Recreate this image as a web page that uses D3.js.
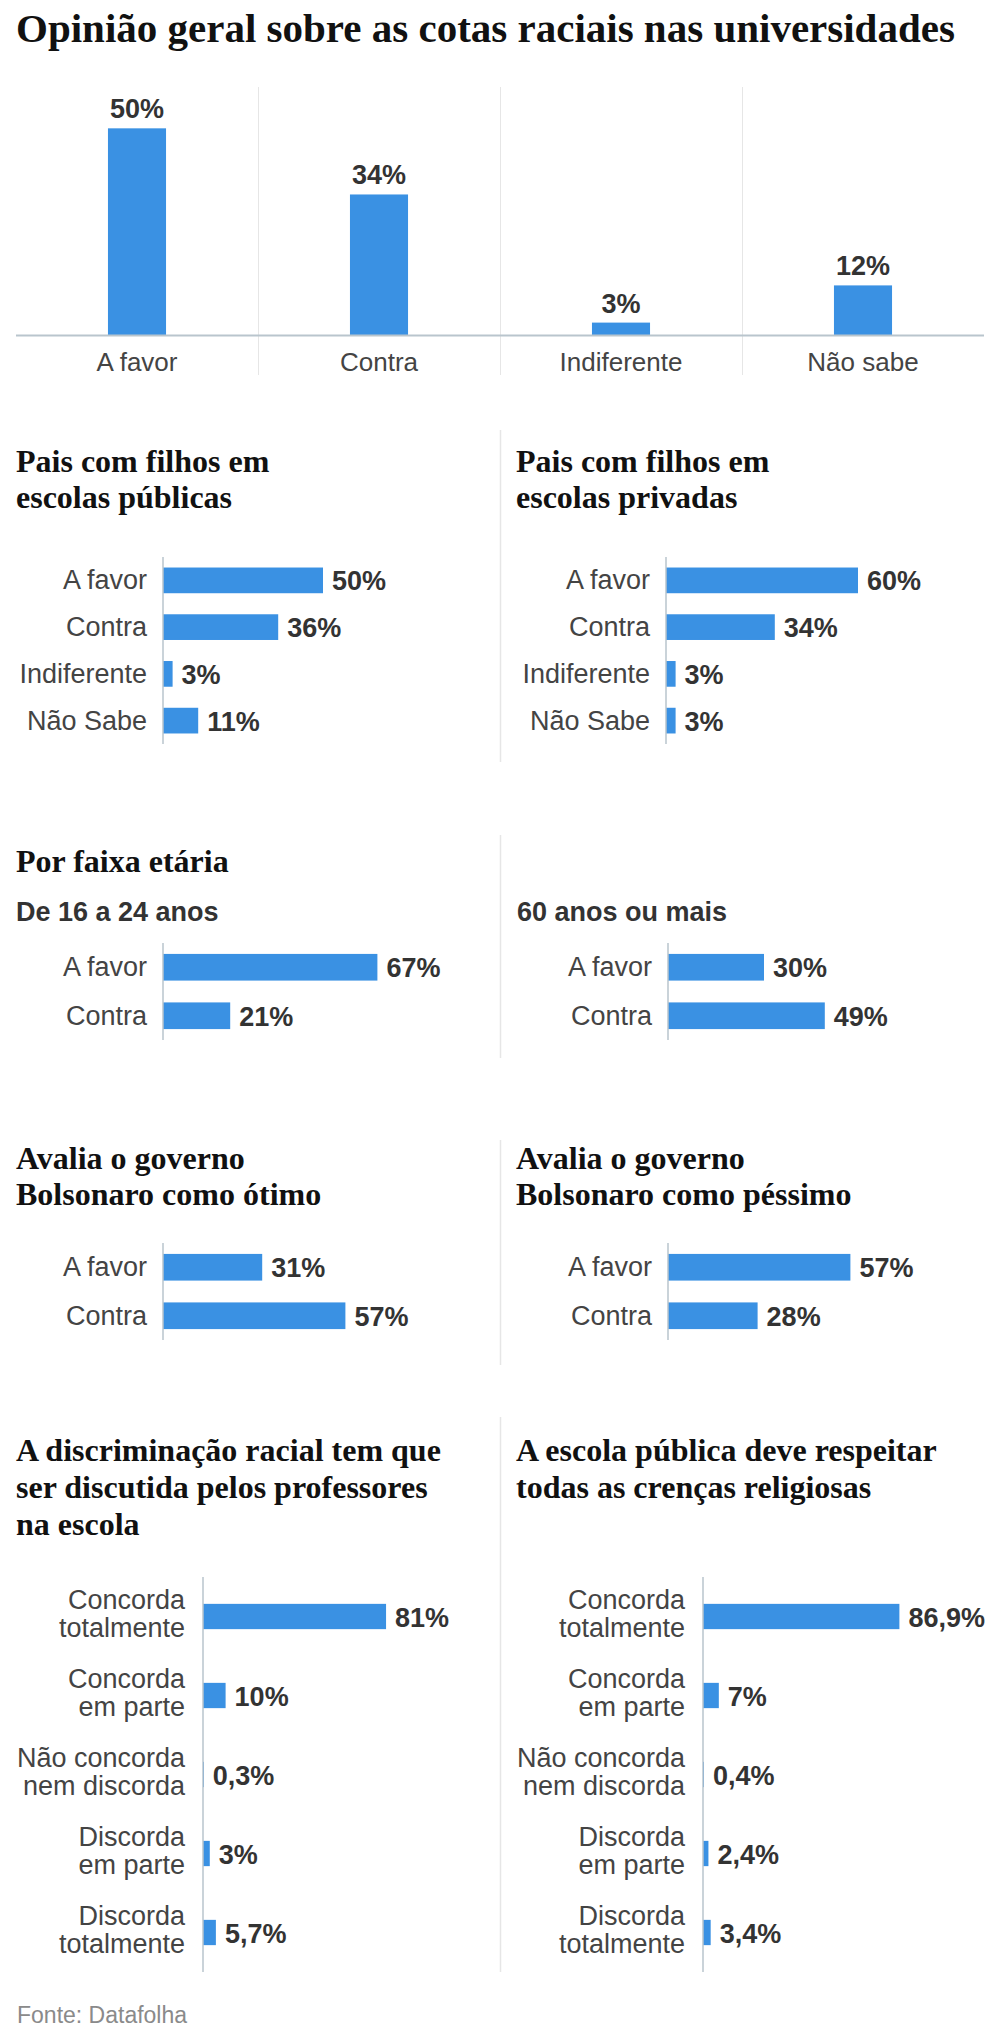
<!DOCTYPE html>
<html>
<head>
<meta charset="utf-8">
<script src="https://cdn.jsdelivr.net/npm/d3@7"></script>
<style>
  html, body { margin: 0; padding: 0; background: #fff; }
  svg { display: block; }
</style>
</head>
<body>
<svg id="chart" width="1000" height="2042"></svg>
<script>
// ---------- DATA ----------
const mainTitle = "Opinião geral sobre as cotas raciais nas universidades";
const overallCats = ["A favor", "Contra", "Indiferente", "Não sabe"];
const overallVals = [50, 34, 3, 12];

const fourCats = ["A favor", "Contra", "Indiferente", "Não Sabe"];
const publicVals = [50, 36, 3, 11];
const privateVals = [60, 34, 3, 3];

const twoCats = ["A favor", "Contra"];
const youngVals = [67, 21];
const oldVals = [30, 49];
const otimoVals = [31, 57];
const pessimoVals = [57, 28];

const agreeCats = [
  ["Concorda", "totalmente"],
  ["Concorda", "em parte"],
  ["Não concorda", "nem discorda"],
  ["Discorda", "em parte"],
  ["Discorda", "totalmente"]
];
const discrimVals = [81, 10, 0.3, 3, 5.7];
const religVals = [86.9, 7, 0.4, 2.4, 3.4];

const titlesPublic = ["Pais com filhos em", "escolas públicas"];
const titlesPrivate = ["Pais com filhos em", "escolas privadas"];
const titleAge = ["Por faixa etária"];
const subYoung = "De 16 a 24 anos";
const subOld = "60 anos ou mais";
const titlesOtimo = ["Avalia o governo", "Bolsonaro como ótimo"];
const titlesPessimo = ["Avalia o governo", "Bolsonaro como péssimo"];
const titlesDiscrim = ["A discriminação racial tem que", "ser discutida pelos professores", "na escola"];
const titlesRelig = ["A escola pública deve respeitar", "todas as crenças religiosas"];
const sourceText = "Fonte: Datafolha";

// ---------- STYLE ----------
const BAR = "#3a91e3";
const SANS = "'Liberation Sans', Arial, Helvetica, sans-serif";
const SERIF = "'Liberation Serif', 'Times New Roman', serif";
const LABEL_C = "#444";
const VALUE_C = "#333";
const GRID_C = "#e6e6e6";
const AXIS_C = "#b9c5cd";

const svg = d3.select("#chart");
const fmt = v => String(v).replace(".", ",") + "%";

// ---------- MAIN TITLE ----------
svg.append("text")
  .attr("x", 16).attr("y", 42)
  .attr("font-family", SERIF).attr("font-weight", "bold")
  .attr("font-size", 41).attr("fill", "#111")
  .text(mainTitle);

// ---------- TOP COLUMN CHART ----------
const xTop = d3.scaleBand().domain(overallCats).range([16, 984]);
const yTop = d3.scaleLinear().domain([0, 60]).range([335, 87]);
const gTop = svg.append("g");

// separators between categories
gTop.selectAll("line.sep")
  .data(overallCats.slice(1))
  .join("line")
  .attr("x1", d => Math.round(xTop(d)) + 0.5)
  .attr("x2", d => Math.round(xTop(d)) + 0.5)
  .attr("y1", yTop(60)).attr("y2", 375)
  .attr("stroke", GRID_C).attr("stroke-width", 1);

const bw = xTop.bandwidth() * 0.24;
gTop.selectAll("rect")
  .data(overallCats)
  .join("rect")
  .attr("x", (d) => xTop(d) + xTop.bandwidth() / 2 - bw / 2)
  .attr("width", bw)
  .attr("y", (d, i) => yTop(overallVals[i]))
  .attr("height", (d, i) => yTop(0) - yTop(overallVals[i]))
  .attr("fill", BAR);

gTop.append("line")
  .attr("x1", 16).attr("x2", 984)
  .attr("y1", yTop(0) + 0.5).attr("y2", yTop(0) + 0.5)
  .attr("stroke", AXIS_C).attr("stroke-width", 2);

gTop.selectAll("text.val")
  .data(overallCats)
  .join("text")
  .attr("x", d => xTop(d) + xTop.bandwidth() / 2)
  .attr("y", (d, i) => yTop(overallVals[i]) - 10)
  .attr("text-anchor", "middle")
  .attr("font-family", SANS).attr("font-weight", "bold")
  .attr("font-size", 27).attr("fill", VALUE_C)
  .text((d, i) => fmt(overallVals[i]));

gTop.selectAll("text.cat")
  .data(overallCats)
  .join("text")
  .attr("x", d => xTop(d) + xTop.bandwidth() / 2)
  .attr("y", 371)
  .attr("text-anchor", "middle")
  .attr("font-family", SANS)
  .attr("font-size", 26).attr("fill", LABEL_C)
  .text(d => d);

// ---------- helpers ----------
function titleBlock(x, y0, lines, lh) {
  const t = svg.append("text")
    .attr("font-family", SERIF).attr("font-weight", "bold")
    .attr("font-size", 32).attr("fill", "#111");
  lines.forEach((l, i) => {
    t.append("tspan").attr("x", x).attr("y", y0 + i * lh).text(l);
  });
}

function divider(y1, y2) {
  svg.append("line")
    .attr("x1", 500.5).attr("x2", 500.5)
    .attr("y1", y1).attr("y2", y2)
    .attr("stroke", GRID_C).attr("stroke-width", 1.5);
}

function hbars(opts) {
  const { axisX, top, bottom, cats, vals, pxPerHundred, padIn, labelGap, twoLine } = opts;
  const g = svg.append("g");
  const y = d3.scaleBand().domain(d3.range(cats.length))
    .range([top, bottom]).paddingInner(padIn).paddingOuter(padIn / 2);
  const x = d3.scaleLinear().domain([0, 100]).range([axisX, axisX + pxPerHundred]);

  g.selectAll("rect")
    .data(vals)
    .join("rect")
    .attr("x", x(0))
    .attr("y", (d, i) => y(i))
    .attr("width", d => Math.max(x(d) - x(0), 1))
    .attr("height", y.bandwidth())
    .attr("fill", BAR);

  g.append("line")
    .attr("x1", axisX).attr("x2", axisX)
    .attr("y1", top).attr("y2", bottom)
    .attr("stroke", AXIS_C).attr("stroke-width", 1.5);

  g.selectAll("text.val")
    .data(vals)
    .join("text")
    .attr("x", d => x(d) + 9)
    .attr("y", (d, i) => y(i) + y.bandwidth() / 2 + 10)
    .attr("font-family", SANS).attr("font-weight", "bold")
    .attr("font-size", 27).attr("fill", VALUE_C)
    .text(d => fmt(d));

  const labels = g.selectAll("text.cat")
    .data(cats)
    .join("text")
    .attr("text-anchor", "end")
    .attr("font-family", SANS)
    .attr("font-size", 27).attr("fill", LABEL_C);

  if (twoLine) {
    labels.each(function (d, i) {
      const cy = y(i) + y.bandwidth() / 2;
      const t = d3.select(this);
      d.forEach((line, k) => {
        t.append("tspan")
          .attr("x", axisX - labelGap)
          .attr("y", cy - 8 + k * 28)
          .text(line);
      });
    });
  } else {
    labels
      .attr("x", axisX - labelGap)
      .attr("y", (d, i) => y(i) + y.bandwidth() / 2 + 9)
      .text(d => d);
  }
}

// ---------- SECTION: pais com filhos ----------
divider(430, 762);
titleBlock(16, 472, titlesPublic, 36);
titleBlock(516, 472, titlesPrivate, 36);
hbars({ axisX: 163, top: 557, bottom: 744, cats: fourCats, vals: publicVals,
        pxPerHundred: 320, padIn: 0.45, labelGap: 16 });
hbars({ axisX: 666, top: 557, bottom: 744, cats: fourCats, vals: privateVals,
        pxPerHundred: 320, padIn: 0.45, labelGap: 16 });

// ---------- SECTION: faixa etária ----------
divider(835, 1058);
titleBlock(16, 872, titleAge, 36);
[[16, subYoung], [517, subOld]].forEach(([x, t]) => {
  svg.append("text")
    .attr("x", x).attr("y", 921)
    .attr("font-family", SANS).attr("font-weight", "bold")
    .attr("font-size", 27).attr("fill", VALUE_C)
    .text(t);
});
hbars({ axisX: 163, top: 943, bottom: 1040, cats: twoCats, vals: youngVals,
        pxPerHundred: 320, padIn: 0.45, labelGap: 16 });
hbars({ axisX: 668, top: 943, bottom: 1040, cats: twoCats, vals: oldVals,
        pxPerHundred: 320, padIn: 0.45, labelGap: 16 });

// ---------- SECTION: governo ----------
divider(1140, 1365);
titleBlock(16, 1169, titlesOtimo, 36);
titleBlock(516, 1169, titlesPessimo, 36);
hbars({ axisX: 163, top: 1243, bottom: 1340, cats: twoCats, vals: otimoVals,
        pxPerHundred: 320, padIn: 0.45, labelGap: 16 });
hbars({ axisX: 668, top: 1243, bottom: 1340, cats: twoCats, vals: pessimoVals,
        pxPerHundred: 320, padIn: 0.45, labelGap: 16 });

// ---------- SECTION: discriminação / religião ----------
divider(1417, 1972);
titleBlock(16, 1461, titlesDiscrim, 37);
titleBlock(516, 1461, titlesRelig, 37);
hbars({ axisX: 203, top: 1577, bottom: 1972, cats: agreeCats, vals: discrimVals,
        pxPerHundred: 226, padIn: 0.68, labelGap: 18, twoLine: true });
hbars({ axisX: 703, top: 1577, bottom: 1972, cats: agreeCats, vals: religVals,
        pxPerHundred: 226, padIn: 0.68, labelGap: 18, twoLine: true });

// ---------- SOURCE ----------
svg.append("text")
  .attr("x", 17).attr("y", 2023)
  .attr("font-family", SANS).attr("font-size", 23).attr("fill", "#8a8a8a")
  .text(sourceText);
</script>
</body>
</html>
